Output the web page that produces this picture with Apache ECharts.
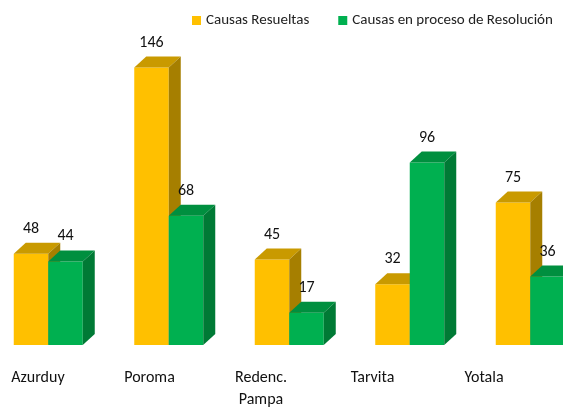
<!DOCTYPE html>
<html>
<head>
<meta charset="utf-8">
<script src="https://cdn.jsdelivr.net/npm/echarts@6/dist/echarts.min.js"></script>
<style>
  html, body { margin: 0; padding: 0; background: #fff; }
  #chart { width: 563px; height: 417px; }
</style>
</head>
<body>
<div id="chart"></div>
<script>
// Causas por municipio
const categories = ['Azurduy', 'Poroma', 'Redenc.\nPampa', 'Tarvita', 'Yotala'];
const resueltas = [48, 146, 45, 32, 75];
const enProceso = [44, 68, 17, 96, 36];
const seriesNames = ['Causas Resueltas', 'Causas en proceso de Resolución'];

const FONT = 'Carlito, "Liberation Sans Narrow", Lato, sans-serif';
const BAR_W = 34.5;   // front face width
const DX = 12;        // depth offset, horizontal
const DY = 11;        // depth offset, vertical

const yellow = { front: '#FFC000', top: '#C99A00', side: '#A67F00' };
const green  = { front: '#00B050', top: '#008F3F', side: '#007A35' };

// Draws a prism-like bar: front face, top face and right side face, plus its value.
function bar3d(faces, side) {
  return function (params, api) {
    const cat = api.value(0);
    const val = api.value(1);
    const base = api.coord([cat, 0]);
    const top = api.coord([cat, val]);
    const x0 = side < 0 ? base[0] - BAR_W : base[0];
    const x1 = x0 + BAR_W;
    const yt = top[1];
    const yb = base[1];
    return {
      type: 'group',
      children: [
        { type: 'polygon', shape: { points: [[x0, yb], [x0, yt], [x1, yt], [x1, yb]] },
          style: { fill: faces.front } },
        { type: 'polygon', shape: { points: [[x0, yt], [x0 + DX, yt - DY], [x1 + DX, yt - DY], [x1, yt]] },
          style: { fill: faces.top } },
        { type: 'polygon', shape: { points: [[x1, yt], [x1 + DX, yt - DY], [x1 + DX, yb - DY], [x1, yb]] },
          style: { fill: faces.side } },
        { type: 'text',
          style: { text: String(val), x: (x0 + x1) / 2, y: yt - 25, align: 'center',
                   verticalAlign: 'middle', font: '16px ' + FONT, fill: '#111' } }
      ]
    };
  };
}

const chart = echarts.init(document.getElementById('chart'), null, { renderer: 'canvas' });

chart.setOption({
  backgroundColor: '#fff',
  animation: false,
  legend: {
    left: 192, top: 13, width: 371, padding: 0,
    orient: 'horizontal',
    itemWidth: 9, itemHeight: 9, itemGap: 29,
    icon: 'rect',
    data: seriesNames,
    textStyle: { fontFamily: FONT, fontSize: 15, color: '#222' }
  },
  grid: [
    { left: 48.25, right: 32.75, top: 3, bottom: 72 },
    { left: 38, right: 79, top: 3, bottom: 72 }
  ],
  xAxis: [
    { type: 'category', gridIndex: 0, data: categories, boundaryGap: false, show: false },
    { type: 'category', gridIndex: 1, data: categories, boundaryGap: false,
      axisLine: { show: false }, axisTick: { show: false },
      axisLabel: { fontFamily: FONT, fontSize: 16, color: '#111', margin: 22, lineHeight: 22,
                   interval: 0 } }
  ],
  yAxis: [
    { type: 'value', gridIndex: 0, min: 0, max: 180, show: false },
    { type: 'value', gridIndex: 1, min: 0, max: 180, show: false }
  ],
  series: [
    { name: seriesNames[0], type: 'custom', xAxisIndex: 0, yAxisIndex: 0,
      itemStyle: { color: yellow.front }, clip: false,
      renderItem: bar3d(yellow, -1), encode: { x: 0, y: 1 },
      data: resueltas.map((v, i) => [i, v]) },
    { name: seriesNames[1], type: 'custom', xAxisIndex: 0, yAxisIndex: 0,
      itemStyle: { color: green.front }, clip: false,
      renderItem: bar3d(green, 1), encode: { x: 0, y: 1 },
      data: enProceso.map((v, i) => [i, v]) }
  ]
});
</script>
</body>
</html>
